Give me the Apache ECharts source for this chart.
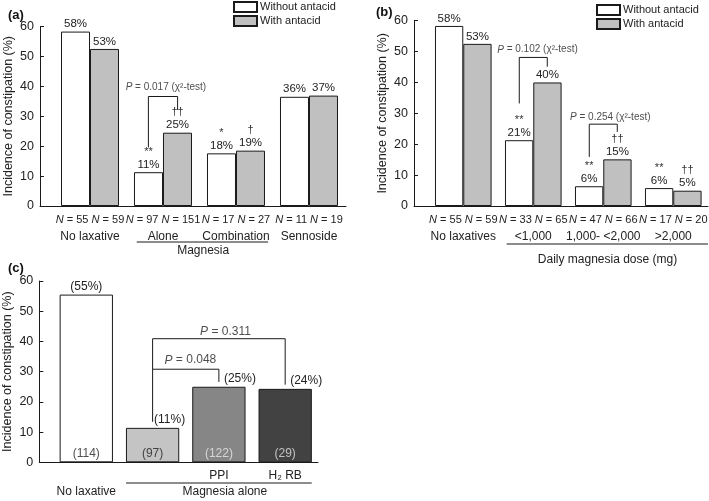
<!DOCTYPE html>
<html><head><meta charset="utf-8">
<script src="https://cdn.jsdelivr.net/npm/echarts@6/dist/echarts.min.js"></script>
<style>html,body{margin:0;padding:0;background:#fff}#c{width:709px;height:501px}</style>
</head><body><div id="c"></div>
<script>
// ---------- Panel (a) ----------
const catsA = ['No laxative', 'Alone', 'Combination', 'Sennoside'];
const nWithoutA = [55, 97, 17, 11];
const nWithA = [59, 151, 27, 19];
const withoutA = [58.3, 11.3, 17.6, 36.5];
const withA = [52.5, 24.5, 18.5, 36.9];
const pctWithoutA = ['58%', '11%', '18%', '36%'];
const pctWithA = ['53%', '25%', '19%', '37%'];
const sigWithoutA = ['', '**', '*', ''];
const sigWithA = ['', '††', '†', ''];

// ---------- Panel (b) ----------
const catsB = ['No laxatives', '<1,000', '1,000- <2,000', '>2,000'];
const nWithoutB = [55, 33, 47, 17];
const nWithB = [59, 65, 66, 20];
const withoutB = [58.3, 21.3, 6.4, 5.8];
const withB = [52.5, 40.0, 15.1, 4.95];
const pctWithoutB = ['58%', '21%', '6%', '6%'];
const pctWithB = ['53%', '40%', '15%', '5%'];
const sigWithoutB = ['', '**', '**', '**'];
const sigWithB = ['', '', '††', '††'];

// ---------- Panel (c) ----------
const catsC = ['No laxative', '', 'PPI', 'H₂ RB'];
const valuesC = [55.5, 11.4, 25.0, 24.3];
const pctC = ['(55%)', '(11%)', '(25%)', '(24%)'];
const nC = [114, 97, 122, 29];

// ---------- Significance brackets (data units: [x, y]) ----------
const bracketsA = [{ p: '0.017', chi: true, pts: [[0.8, 19.6], [0.8, 36.6], [1.2, 36.6], [1.2, 32.1]], txt: [1.04, 39.8] }];
const bracketsB = [
  { p: '0.102', chi: true, pts: [[0.8, 33.2], [0.8, 48.1], [1.2, 48.1], [1.2, 45.1]], txt: [1.06, 50.6] },
  { p: '0.254', chi: true, pts: [[1.8, 15.9], [1.8, 26.5], [2.2, 26.5], [2.2, 24.0]], txt: [2.1, 28.8] }
];
const bracketsC = [
  { p: '0.048', chi: false, pts: [[1, 13.4], [1, 30.8], [2, 30.8], [2, 26.6]], txt: [1.57, 33.8] },
  { p: '0.311', chi: false, pts: [[1, 30.8], [1, 40.9], [3, 40.9], [3, 25.7]], txt: [2.1, 43.1] }
];

const FONT = '"Liberation Sans", Arial, sans-serif';
const INK = '#1a1a1a';
const TXT = '#222';
const GRAY = '#c0c0c0';
const colorsC = ['#ffffff', '#c4c4c4', '#868686', '#424242'];
const countColorsC = ['#222', '#222', '#e8e8e8', '#e0e0e0'];
const pctShiftC = [0, 17, 21, 21];
const labelSlots = [-0.6, 0, 1, 2, 3, 3.45];

const chart = echarts.init(document.getElementById('c'));

function yAxisCfg(g) {
  return {
    type: 'value', gridIndex: g, min: 0, max: 60, interval: 10,
    axisLine: { show: true, onZero: false, lineStyle: { color: INK, width: 1 } },
    axisTick: { show: true, inside: true, length: 4, lineStyle: { color: INK } },
    axisLabel: { fontSize: 12.5, color: TXT, margin: 6, fontFamily: FONT },
    splitLine: { show: false },
    name: 'Incidence of constipation (%)', nameLocation: 'middle', nameGap: 25,
    nameTextStyle: { fontSize: 12.5, color: TXT, fontFamily: FONT }
  };
}
function xAxisCfg(g, min, max, fmt, rich, margin) {
  return {
    type: 'value', gridIndex: g, min: min, max: max,
    axisLine: { show: true, onZero: false, lineStyle: { color: INK, width: 1 } },
    axisTick: { show: false },
    splitLine: { show: false },
    axisLabel: {
      customValues: labelSlots, margin: margin, hideOverlap: false,
      formatter: function (v) { return Math.abs(v - Math.round(v)) > 0.01 ? '' : fmt(Math.round(v)); },
      fontSize: 11, lineHeight: 16, color: TXT, fontFamily: FONT, rich: rich
    }
  };
}
const richAB = {
  i: { fontStyle: 'italic', fontSize: 11, lineHeight: 16, color: TXT, fontFamily: FONT },
  t: { fontSize: 11, lineHeight: 16, color: TXT, fontFamily: FONT },
  c: { fontSize: 12, lineHeight: 17, color: TXT, fontFamily: FONT }
};
function nFmt(nW, nB, cats) {
  return function (i) {
    return '{i|N}{t| = ' + nW[i] + ' }{i|N}{t| = ' + nB[i] + '}\n{c|' + cats[i] + '}';
  };
}

function barLabel(pcts, sigs) {
  return {
    show: true, position: 'top', distance: 1,
    formatter: function (p) {
      const s = sigs[p.dataIndex];
      return (s ? '{s|' + s + '}\n' : '') + '{p|' + pcts[p.dataIndex] + '}';
    },
    rich: {
      s: { fontSize: 11, lineHeight: 13, color: '#333', fontFamily: FONT },
      p: { fontSize: 11.5, lineHeight: 13, color: TXT, fontFamily: FONT }
    }
  };
}
function barSeries(name, g, vals, color, width, pcts, sigs) {
  return {
    type: 'bar', name: name, xAxisIndex: g, yAxisIndex: g,
    data: vals.map(function (v, i) { return [i, v]; }),
    barWidth: width, barGap: '0%',
    itemStyle: { color: color, borderColor: INK, borderWidth: 1 },
    label: barLabel(pcts, sigs), animation: false
  };
}
function bracketSeries(g, list) {
  const out = [];
  out.push({
    type: 'lines', coordinateSystem: 'cartesian2d', xAxisIndex: g, yAxisIndex: g,
    polyline: true, silent: true, animation: false,
    lineStyle: { color: INK, width: 1, opacity: 1 },
    data: list.map(function (b) { return { coords: b.pts }; })
  });
  list.forEach(function (b) {
    out.push({
      type: 'scatter', xAxisIndex: g, yAxisIndex: g, data: [b.txt], symbolSize: 0.1,
      itemStyle: { color: 'transparent' }, silent: true, animation: false,
      label: {
        show: true, position: 'inside',
        formatter: b.chi ? '{i|P}{t| = ' + b.p + ' (χ²-test)}' : '{I|P}{T| = ' + b.p + '}',
        rich: {
          i: { fontStyle: 'italic', fontSize: 10, color: TXT, fontFamily: FONT },
          t: { fontSize: 10, color: TXT, fontFamily: FONT },
          I: { fontStyle: 'italic', fontSize: 12, color: TXT, fontFamily: FONT },
          T: { fontSize: 12, color: TXT, fontFamily: FONT }
        }
      }
    });
  });
  return out;
}

const series = [
  barSeries('Without antacid', 0, withoutA, '#ffffff', 29, pctWithoutA, sigWithoutA),
  barSeries('With antacid', 0, withA, GRAY, 29, pctWithA, sigWithA),
  barSeries('Without antacid', 1, withoutB, '#ffffff', 28.3, pctWithoutB, sigWithoutB),
  barSeries('With antacid', 1, withB, GRAY, 28.3, pctWithB, sigWithB),
  {
    type: 'bar', name: 'c', xAxisIndex: 2, yAxisIndex: 2, barWidth: 53.3, animation: false,
    data: valuesC.map(function (v, i) {
      return {
        value: [i, v], itemStyle: { color: colorsC[i], borderColor: INK, borderWidth: 1 },
        label: { offset: [pctShiftC[i], 0] }
      };
    }),
    label: {
      show: true, position: 'top', distance: 2, fontSize: 12, color: TXT, fontFamily: FONT,
      formatter: function (p) { return pctC[p.dataIndex]; }
    }
  },
  {
    type: 'scatter', xAxisIndex: 2, yAxisIndex: 2, symbolSize: 0.1, silent: true, animation: false,
    itemStyle: { color: 'transparent' },
    data: nC.map(function (n, i) {
      return { value: [i, 0], label: { color: countColorsC[i] } };
    }),
    label: {
      show: true, position: 'top', distance: 3, fontSize: 12, fontFamily: FONT,
      formatter: function (p) { return '(' + nC[p.dataIndex] + ')'; }
    }
  }
].concat(bracketSeries(0, bracketsA), bracketSeries(1, bracketsB), bracketSeries(2, bracketsC));

const legendCfg = function (left, top) {
  return {
    data: ['Without antacid', 'With antacid'], left: left, top: top, orient: 'vertical',
    icon: 'rect', itemWidth: 23, itemHeight: 10, itemGap: 2, selectedMode: false,
    padding: 0, textStyle: { fontSize: 11, color: TXT, fontFamily: FONT, padding: [0, 0, 0, -2] }
  };
};

chart.setOption({
  backgroundColor: '#ffffff',
  animation: false,
  textStyle: { fontFamily: FONT },
  grid: [
    { left: 40, top: 26.5, width: 306, height: 179.5, outerBoundsMode: 'none' },
    { left: 414, top: 20.7, width: 294, height: 185.3, outerBoundsMode: 'none' },
    { left: 39.3, top: 281, width: 278.7, height: 181.3, outerBoundsMode: 'none' }
  ],
  legend: [legendCfg(233, 1), legendCfg(596, 4)],
  xAxis: [
    xAxisCfg(0, -0.685, 3.507, nFmt(nWithoutA, nWithA, catsA), richAB, 6),
    xAxisCfg(1, -0.704, 3.496, nFmt(nWithoutB, nWithB, catsB), richAB, 6),
    xAxisCfg(2, -0.709, 3.495, function (i) {
      return i === 0 ? '\n{c|' + catsC[i] + '}' : '{c|' + catsC[i] + '}';
    }, { c: { fontSize: 12, lineHeight: 19, color: TXT, fontFamily: FONT } }, 4)
  ],
  yAxis: [yAxisCfg(0), yAxisCfg(1), yAxisCfg(2)],
  series: series
});

// ---------- Group decorations under the axes (positioned via axis conversion) ----------
function px(g, x, y) { return chart.convertToPixel({ gridIndex: g }, [x, y]); }
function hline(g, x1, x2, ypx) {
  const a = px(g, x1, 0), b = px(g, x2, 0);
  return { type: 'line', shape: { x1: a[0], y1: ypx, x2: b[0], y2: ypx }, style: { stroke: INK, lineWidth: 1 } };
}
function txt(g, x, ypx, s, size) {
  const a = px(g, x, 0);
  return {
    type: 'text', x: a[0], y: ypx,
    style: { text: s, fill: TXT, font: size + 'px ' + FONT, textAlign: 'center', textVerticalAlign: 'middle' }
  };
}
function plainText(x, y, s) {
  return { type: 'text', left: x, top: y, style: { text: s, fill: '#111', font: 'bold 13px ' + FONT } };
}
chart.setOption({
  graphic: [
    hline(0, 0.64, 2.44, 242), txt(0, 1.55, 251, 'Magnesia', 12),
    hline(1, 0.62, 3.496, 244), txt(1, 2.06, 260, 'Daily magnesia dose (mg)', 12),
    hline(2, 0.6, 3.4, 483), txt(2, 2.09, 492, 'Magnesia alone', 12),
    plainText(8, 9, '(a)'), plainText(376, 6, '(b)'), plainText(8, 262, '(c)')
  ]
});
</script></body></html>
